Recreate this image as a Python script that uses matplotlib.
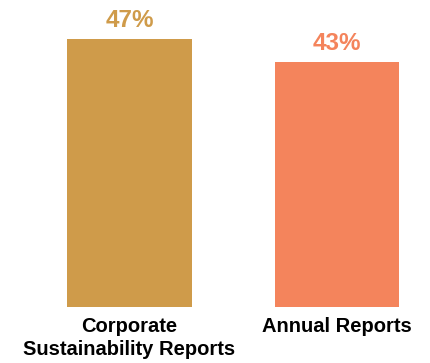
import matplotlib.pyplot as plt

# report types and share of companies
categories = ['Corporate\nSustainability Reports', 'Annual Reports']
values = [47, 43]
colors = ['#CF9B4A', '#F4845C']
labels = ['47%', '43%']

plt.rcParams['font.family'] = ['Liberation Sans', 'DejaVu Sans']

fig = plt.figure(figsize=(4.3, 3.63), dpi=100)
ax = fig.add_axes([0, 0.154, 1, 0.846])

x = range(len(values))
bars = ax.bar(x, values, width=0.6, color=colors)

for b, lab, c in zip(bars, labels, colors):
    ax.annotate(lab, (b.get_x() + b.get_width() / 2, b.get_height()),
                xytext=(0, 5), textcoords='offset points',
                ha='center', va='bottom', fontsize=17.5,
                fontweight='bold', color=c)

ax.set_xticks(list(x))
ax.set_xticklabels(categories, fontsize=14.5, fontweight='bold',
                   linespacing=1.25)
ax.tick_params(axis='x', length=0, pad=7)
ax.set_yticks([])
ax.set_xlim(-0.624, 1.448)
ax.set_ylim(0, 53.86)
for s in ax.spines.values():
    s.set_visible(False)

fig.savefig('out.png', dpi=100)
